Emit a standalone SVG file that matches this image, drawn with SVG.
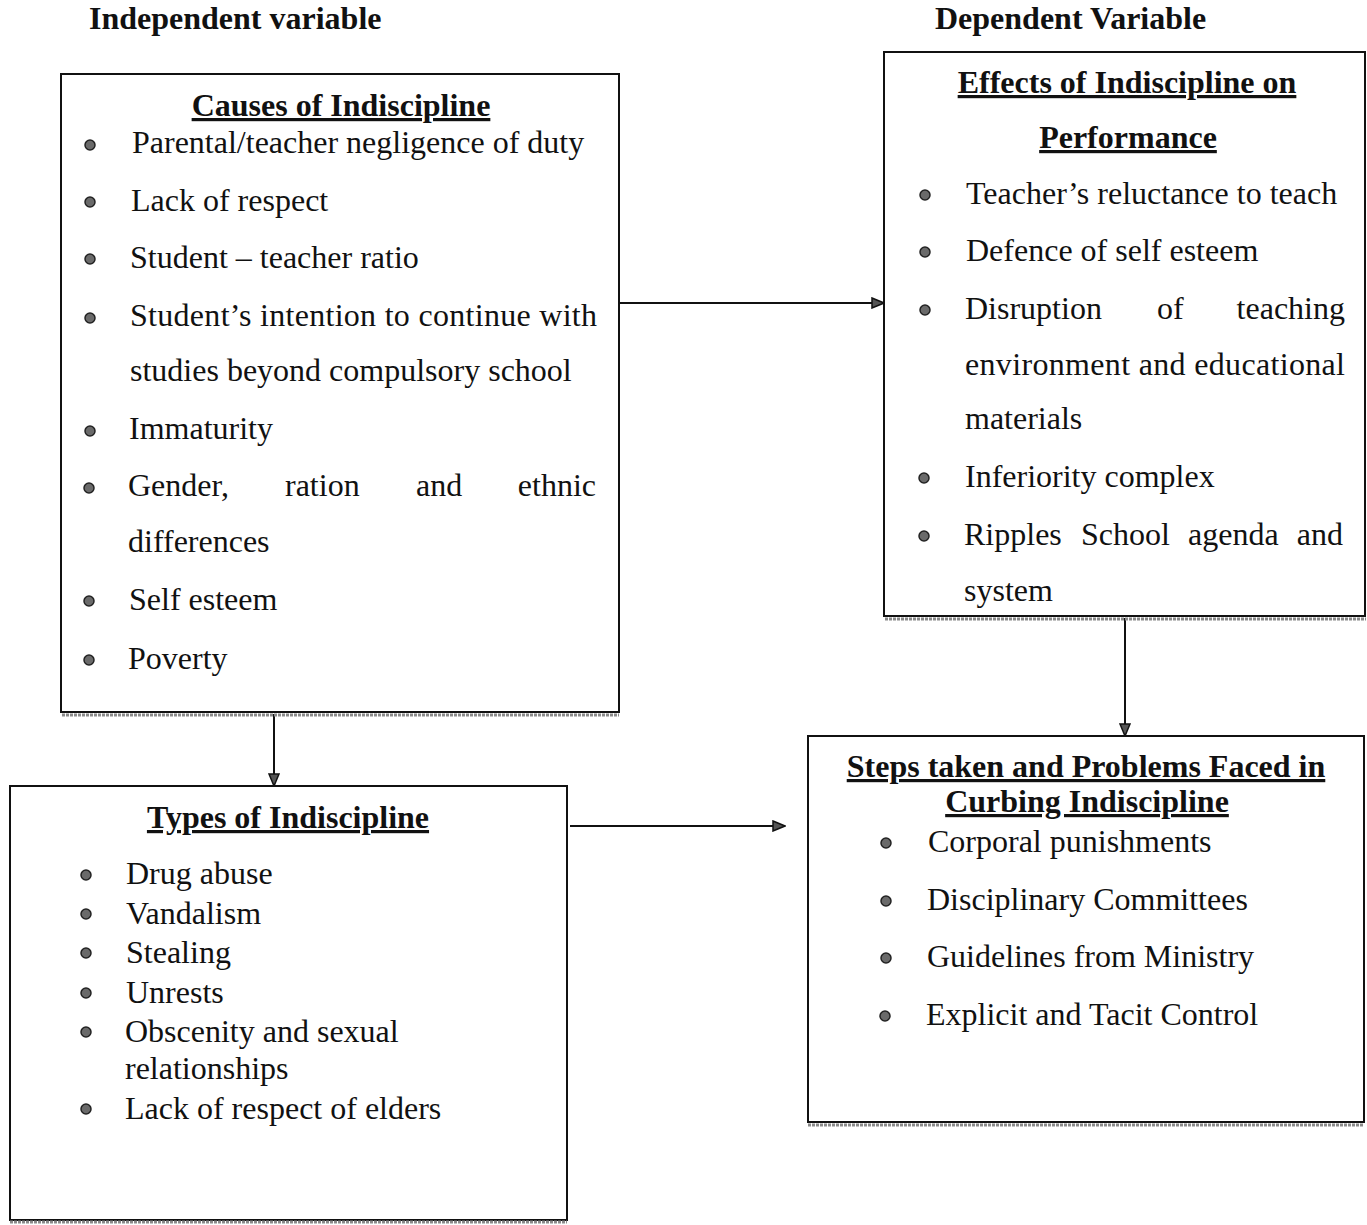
<svg xmlns="http://www.w3.org/2000/svg" width="1367" height="1225" viewBox="0 0 1367 1225">
<style>
text{font-family:"Liberation Serif","Times New Roman",serif;font-size:32px;fill:#111}
.h{font-weight:bold}
.t{font-weight:bold;text-anchor:middle;text-decoration:underline}
.box{fill:#fff;stroke:#111;stroke-width:2}
.sh{stroke:#8a8a8a;stroke-width:3;stroke-dasharray:3 1;fill:none}
.b{fill:#6a6a6a;stroke:#222;stroke-width:1.5}
.c{stroke:#111;stroke-width:2;fill:none}
</style>
<defs>
<marker id="ah" markerWidth="14" markerHeight="12" refX="13" refY="6" orient="auto" markerUnits="userSpaceOnUse">
<path d="M1,1 L13,6 L1,11 Z" fill="#555" stroke="#111" stroke-width="1.5"/>
</marker>
</defs>

<text class="h" x="89" y="29">Independent variable</text>
<text class="h" x="935" y="29">Dependent Variable</text>

<g id="connectors">
<line class="c" x1="620" y1="303" x2="884" y2="303" marker-end="url(#ah)"/>
<line class="c" x1="274" y1="714" x2="274" y2="786" marker-end="url(#ah)"/>
<line class="c" x1="1125" y1="618" x2="1125" y2="736" marker-end="url(#ah)"/>
<line class="c" x1="570" y1="826" x2="785" y2="826" marker-end="url(#ah)"/>
</g>

<g id="causes">
<rect class="box" x="61" y="74" width="558" height="638"/>
<line class="sh" x1="62" y1="715" x2="619" y2="715"/>
<text class="t" x="341" y="116">Causes of Indiscipline</text>
<circle class="b" cx="90" cy="145" r="5"/>
<text x="132" y="153">Parental/teacher negligence of duty</text>
<circle class="b" cx="90" cy="202" r="5"/>
<text x="131" y="211">Lack of respect</text>
<circle class="b" cx="90" cy="259" r="5"/>
<text x="130" y="268">Student – teacher ratio</text>
<circle class="b" cx="90" cy="318" r="5"/>
<text x="130" y="326" textLength="467" lengthAdjust="spacing">Student’s intention to continue with</text>
<text x="130" y="381">studies beyond compulsory school</text>
<circle class="b" cx="90" cy="431" r="5"/>
<text x="129" y="439">Immaturity</text>
<circle class="b" cx="89" cy="488" r="5"/>
<text x="128" y="496">Gender,</text>
<text x="285" y="496">ration</text>
<text x="416" y="496">and</text>
<text x="596" y="496" text-anchor="end">ethnic</text>
<text x="128" y="552">differences</text>
<circle class="b" cx="89" cy="601" r="5"/>
<text x="129" y="610">Self esteem</text>
<circle class="b" cx="89" cy="660" r="5"/>
<text x="128" y="669">Poverty</text>
</g>

<g id="effects">
<rect class="box" x="884" y="52" width="481" height="564"/>
<line class="sh" x1="885" y1="619" x2="1366" y2="619"/>
<text class="t" x="1127" y="93">Effects of Indiscipline on</text>
<text class="t" x="1128" y="148">Performance</text>
<circle class="b" cx="925" cy="195" r="5"/>
<text x="966" y="204">Teacher’s reluctance to teach</text>
<circle class="b" cx="925" cy="252" r="5"/>
<text x="966" y="261">Defence of self esteem</text>
<circle class="b" cx="925" cy="310" r="5"/>
<text x="965" y="319">Disruption</text>
<text x="1157" y="319">of</text>
<text x="1345" y="319" text-anchor="end">teaching</text>
<text x="965" y="375" textLength="380" lengthAdjust="spacing">environment and educational</text>
<text x="965" y="429">materials</text>
<circle class="b" cx="924" cy="478" r="5"/>
<text x="965" y="487">Inferiority complex</text>
<circle class="b" cx="924" cy="536" r="5"/>
<text x="964" y="545">Ripples</text>
<text x="1081" y="545">School</text>
<text x="1188" y="545">agenda</text>
<text x="1343" y="545" text-anchor="end">and</text>
<text x="964" y="601">system</text>
</g>

<g id="types">
<rect class="box" x="10" y="786" width="557" height="434"/>
<line class="sh" x1="10" y1="1222" x2="567" y2="1222"/>
<text class="t" x="288" y="828">Types of Indiscipline</text>
<circle class="b" cx="86" cy="875" r="5"/>
<text x="126" y="884">Drug abuse</text>
<circle class="b" cx="86" cy="914" r="5"/>
<text x="126" y="924">Vandalism</text>
<circle class="b" cx="86" cy="953" r="5"/>
<text x="126" y="963">Stealing</text>
<circle class="b" cx="86" cy="993" r="5"/>
<text x="126" y="1003">Unrests</text>
<circle class="b" cx="86" cy="1032" r="5"/>
<text x="125" y="1042">Obscenity and sexual</text>
<text x="125" y="1079">relationships</text>
<circle class="b" cx="86" cy="1109" r="5"/>
<text x="125" y="1119">Lack of respect of elders</text>
</g>

<g id="steps">
<rect class="box" x="808" y="736" width="556" height="386"/>
<line class="sh" x1="808" y1="1125" x2="1364" y2="1125"/>
<text class="t" x="1086" y="777">Steps taken and Problems Faced in</text>
<text class="t" x="1087" y="812">Curbing Indiscipline</text>
<circle class="b" cx="886" cy="843" r="5"/>
<text x="928" y="852">Corporal punishments</text>
<circle class="b" cx="886" cy="901" r="5"/>
<text x="927" y="910">Disciplinary Committees</text>
<circle class="b" cx="886" cy="958" r="5"/>
<text x="927" y="967">Guidelines from Ministry</text>
<circle class="b" cx="885" cy="1016" r="5"/>
<text x="926" y="1025">Explicit and Tacit Control</text>
</g>
</svg>
